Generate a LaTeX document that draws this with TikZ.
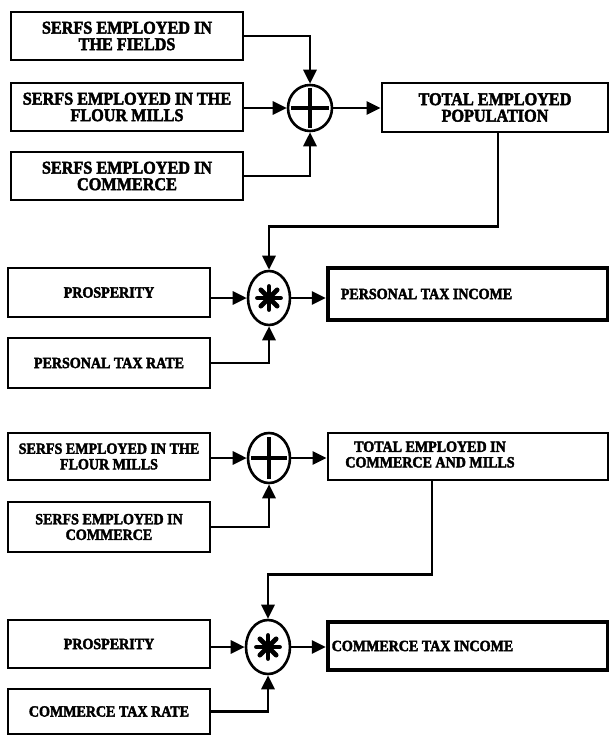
\documentclass[tikz,border=0pt]{standalone}
\usepackage{fontspec}
\newfontfamily\bk{Liberation Serif}[FakeStretch=0.9, FakeBold=2.5]
\usetikzlibrary{arrows.meta,shapes.geometric}
\begin{document}
\begin{tikzpicture}[x=1pt,y=-1pt,
  box/.style={draw, line width=2.8pt, inner sep=0pt, align=center, rectangle},
  topbox/.style={box, font=\fontsize{18}{16.5}\selectfont\bk\bfseries},
  lowbox/.style={box, font=\fontsize{15.6}{15.6}\selectfont\bk\bfseries},
  outbox/.style={lowbox, line width=4.4pt},
  op/.style={draw, ellipse, line width=2.6pt, inner sep=0pt},
  arr/.style={line width=2.8pt, -{Triangle[length=14pt,width=13pt]}},
  sym/.style={line width=4.4pt}
]
\useasboundingbox (0,0) rectangle (608,736);

% ---- top section
\node[topbox, minimum width=232, minimum height=48] (f1) at (127,36) {SERFS EMPLOYED IN\\THE FIELDS};
\node[topbox, minimum width=232, minimum height=48] (m1) at (127,107) {SERFS EMPLOYED IN THE\\FLOUR MILLS};
\node[topbox, minimum width=232, minimum height=48] (c1) at (127,176) {SERFS EMPLOYED IN\\COMMERCE};
\node[op, minimum width=44, minimum height=46] (s1) at (310,108) {};
\node[topbox, minimum width=226, minimum height=49] (t1) at (495,107.5) {TOTAL EMPLOYED\\POPULATION};

\draw[sym] ([yshift=-20pt]s1.center) -- ([yshift=20pt]s1.center);
\draw[sym] ([xshift=-19pt]s1.center) -- ([xshift=19pt]s1.center);

\draw[arr] (f1.east) -| (s1.north);
\draw[arr] (m1.east |- s1.west) -- (s1.west);
\draw[arr] (c1.east) -| (s1.south);
\draw[arr] (s1.east) -- (t1.west |- s1.east);

% ---- personal tax
\node[op, minimum width=42, minimum height=54] (x1) at (269,298) {};
\node[lowbox, minimum width=202, minimum height=49] (p1) at (109,292.5) {PROSPERITY};
\node[lowbox, minimum width=202, minimum height=50] (r1) at (109,363) {PERSONAL TAX RATE};
\node[outbox, minimum width=280, minimum height=52] (i1) at (468,294) {PERSONAL TAX INCOME\hspace*{83pt}};

\foreach \a in {0,45,...,315}{
  \draw[line width=4.8pt, line cap=round] (x1.center) -- ++(\a:11.5pt);
}

\draw[arr] ([xshift=3pt]t1.south) -- ++(0,93) -| (x1.north);
\draw[arr] (p1.east |- x1.west) -- (x1.west);
\draw[arr] (r1.east) -| (x1.south);
\draw[arr] (x1.east) -- (i1.west |- x1.east);

% ---- commerce sum
\node[op, minimum width=42, minimum height=50] (s2) at (269,458) {};
\node[lowbox, minimum width=202, minimum height=47] (m2) at (109,456.5) {SERFS EMPLOYED IN THE\\FLOUR MILLS};
\node[lowbox, minimum width=202, minimum height=50] (c2) at (109,527) {SERFS EMPLOYED IN\\COMMERCE};
\node[lowbox, minimum width=280, minimum height=47] (t2) at (468,456.5) {\begin{tabular}{@{}c@{}}TOTAL EMPLOYED IN\\COMMERCE AND MILLS\end{tabular}\hspace*{76pt}};

\draw[sym] ([yshift=-21pt]s2.center) -- ([yshift=21pt]s2.center);
\draw[sym] ([xshift=-18pt]s2.center) -- ([xshift=18pt]s2.center);

\draw[arr] (m2.east |- s2.west) -- (s2.west);
\draw[arr] (c2.east) -| (s2.south);
\draw[arr] (s2.east) -- (t2.west |- s2.east);

% ---- commerce tax
\node[op, minimum width=44, minimum height=54] (x2) at (268,647) {};
\node[lowbox, minimum width=202, minimum height=48] (p2) at (109,644) {PROSPERITY};
\node[lowbox, minimum width=202, minimum height=45] (r2) at (109,711.5) {COMMERCE TAX RATE};
\node[outbox, minimum width=280, minimum height=48] (i2) at (468,646) {COMMERCE TAX INCOME\hspace*{91pt}};

\foreach \a in {0,45,...,315}{
  \draw[line width=4.8pt, line cap=round] (x2.center) -- ++(\a:11.5pt);
}

\draw[arr] ([xshift=-36pt]t2.south) -- ++(0,93) -| (x2.north);
\draw[arr] (p2.east |- x2.west) -- (x2.west);
\draw[arr] (r2.east) -| (x2.south);
\draw[arr] (x2.east) -- (i2.west |- x2.east);
\end{tikzpicture}
\end{document}
